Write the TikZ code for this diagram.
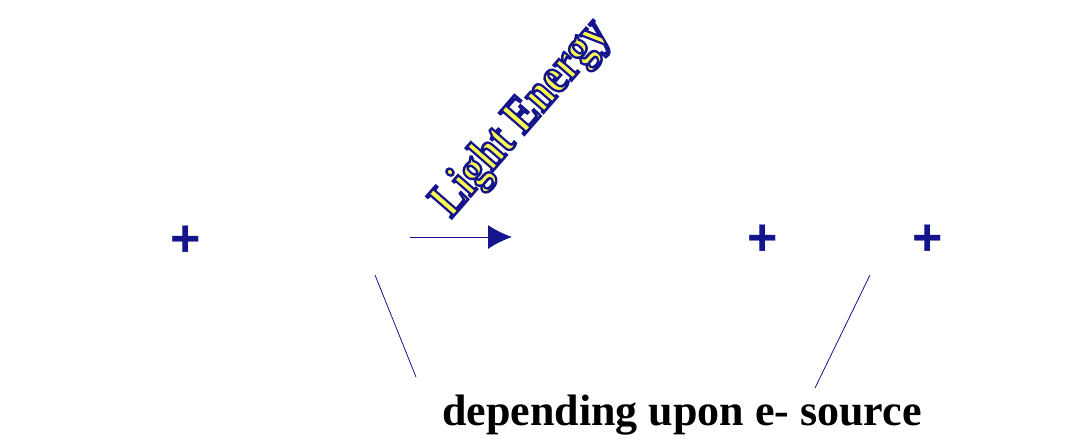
\documentclass[tikz,border=0pt]{standalone}
\usepackage{fontspec}
\setmainfont{Liberation Serif}
\setsansfont{Liberation Sans}
\usetikzlibrary{arrows.meta,calc}
\newcommand{\outlinetext}[1]{\special{pdf:literal 2 Tr 2.6 w 0.08 0.08 0.55 RG}#1\special{pdf:literal 0 Tr}}
\begin{document}
\begin{tikzpicture}[x=1pt,y=-1pt,
  plus/.style={font=\sffamily\bfseries\fontsize{52}{52}\selectfont, text=navy, inner sep=0pt},
  link/.style={draw=navy, line width=0.8pt},
  lighttext/.style={font=\bfseries\fontsize{51}{51}\selectfont, rotate=49, inner sep=0pt}]
\definecolor{navy}{RGB}{20,20,140}
\definecolor{lyellow}{RGB}{250,250,80}
\useasboundingbox (0,0) rectangle (1082,439);
\node[plus] (p1) at (186,241) {+};
\node[plus] (p2) at (763,240) {+};
\node[plus] (p3) at (928,240) {+};
\coordinate (a0) at (410,237);
\coordinate (a1) at (512,237);
\draw[navy, line width=1pt, -{Latex[length=24pt,width=24pt]}] (a0) -- (a1);
\node[lighttext, text=lyellow] (light) at (522,119) {\scalebox{0.84}[1]{\outlinetext{Light Energy}}};
\coordinate (l1a) at (375,275);
\coordinate (l1b) at (416,377);
\coordinate (l2a) at (870,275);
\coordinate (l2b) at (815,388);
\draw[link] (l1a) -- (l1b);
\draw[link] (l2a) -- (l2b);
\node[font=\bfseries\fontsize{44}{44}\selectfont, text=black, inner sep=0pt, anchor=base] (src) at (682,425) {depending upon e- source};
\end{tikzpicture}
\end{document}
